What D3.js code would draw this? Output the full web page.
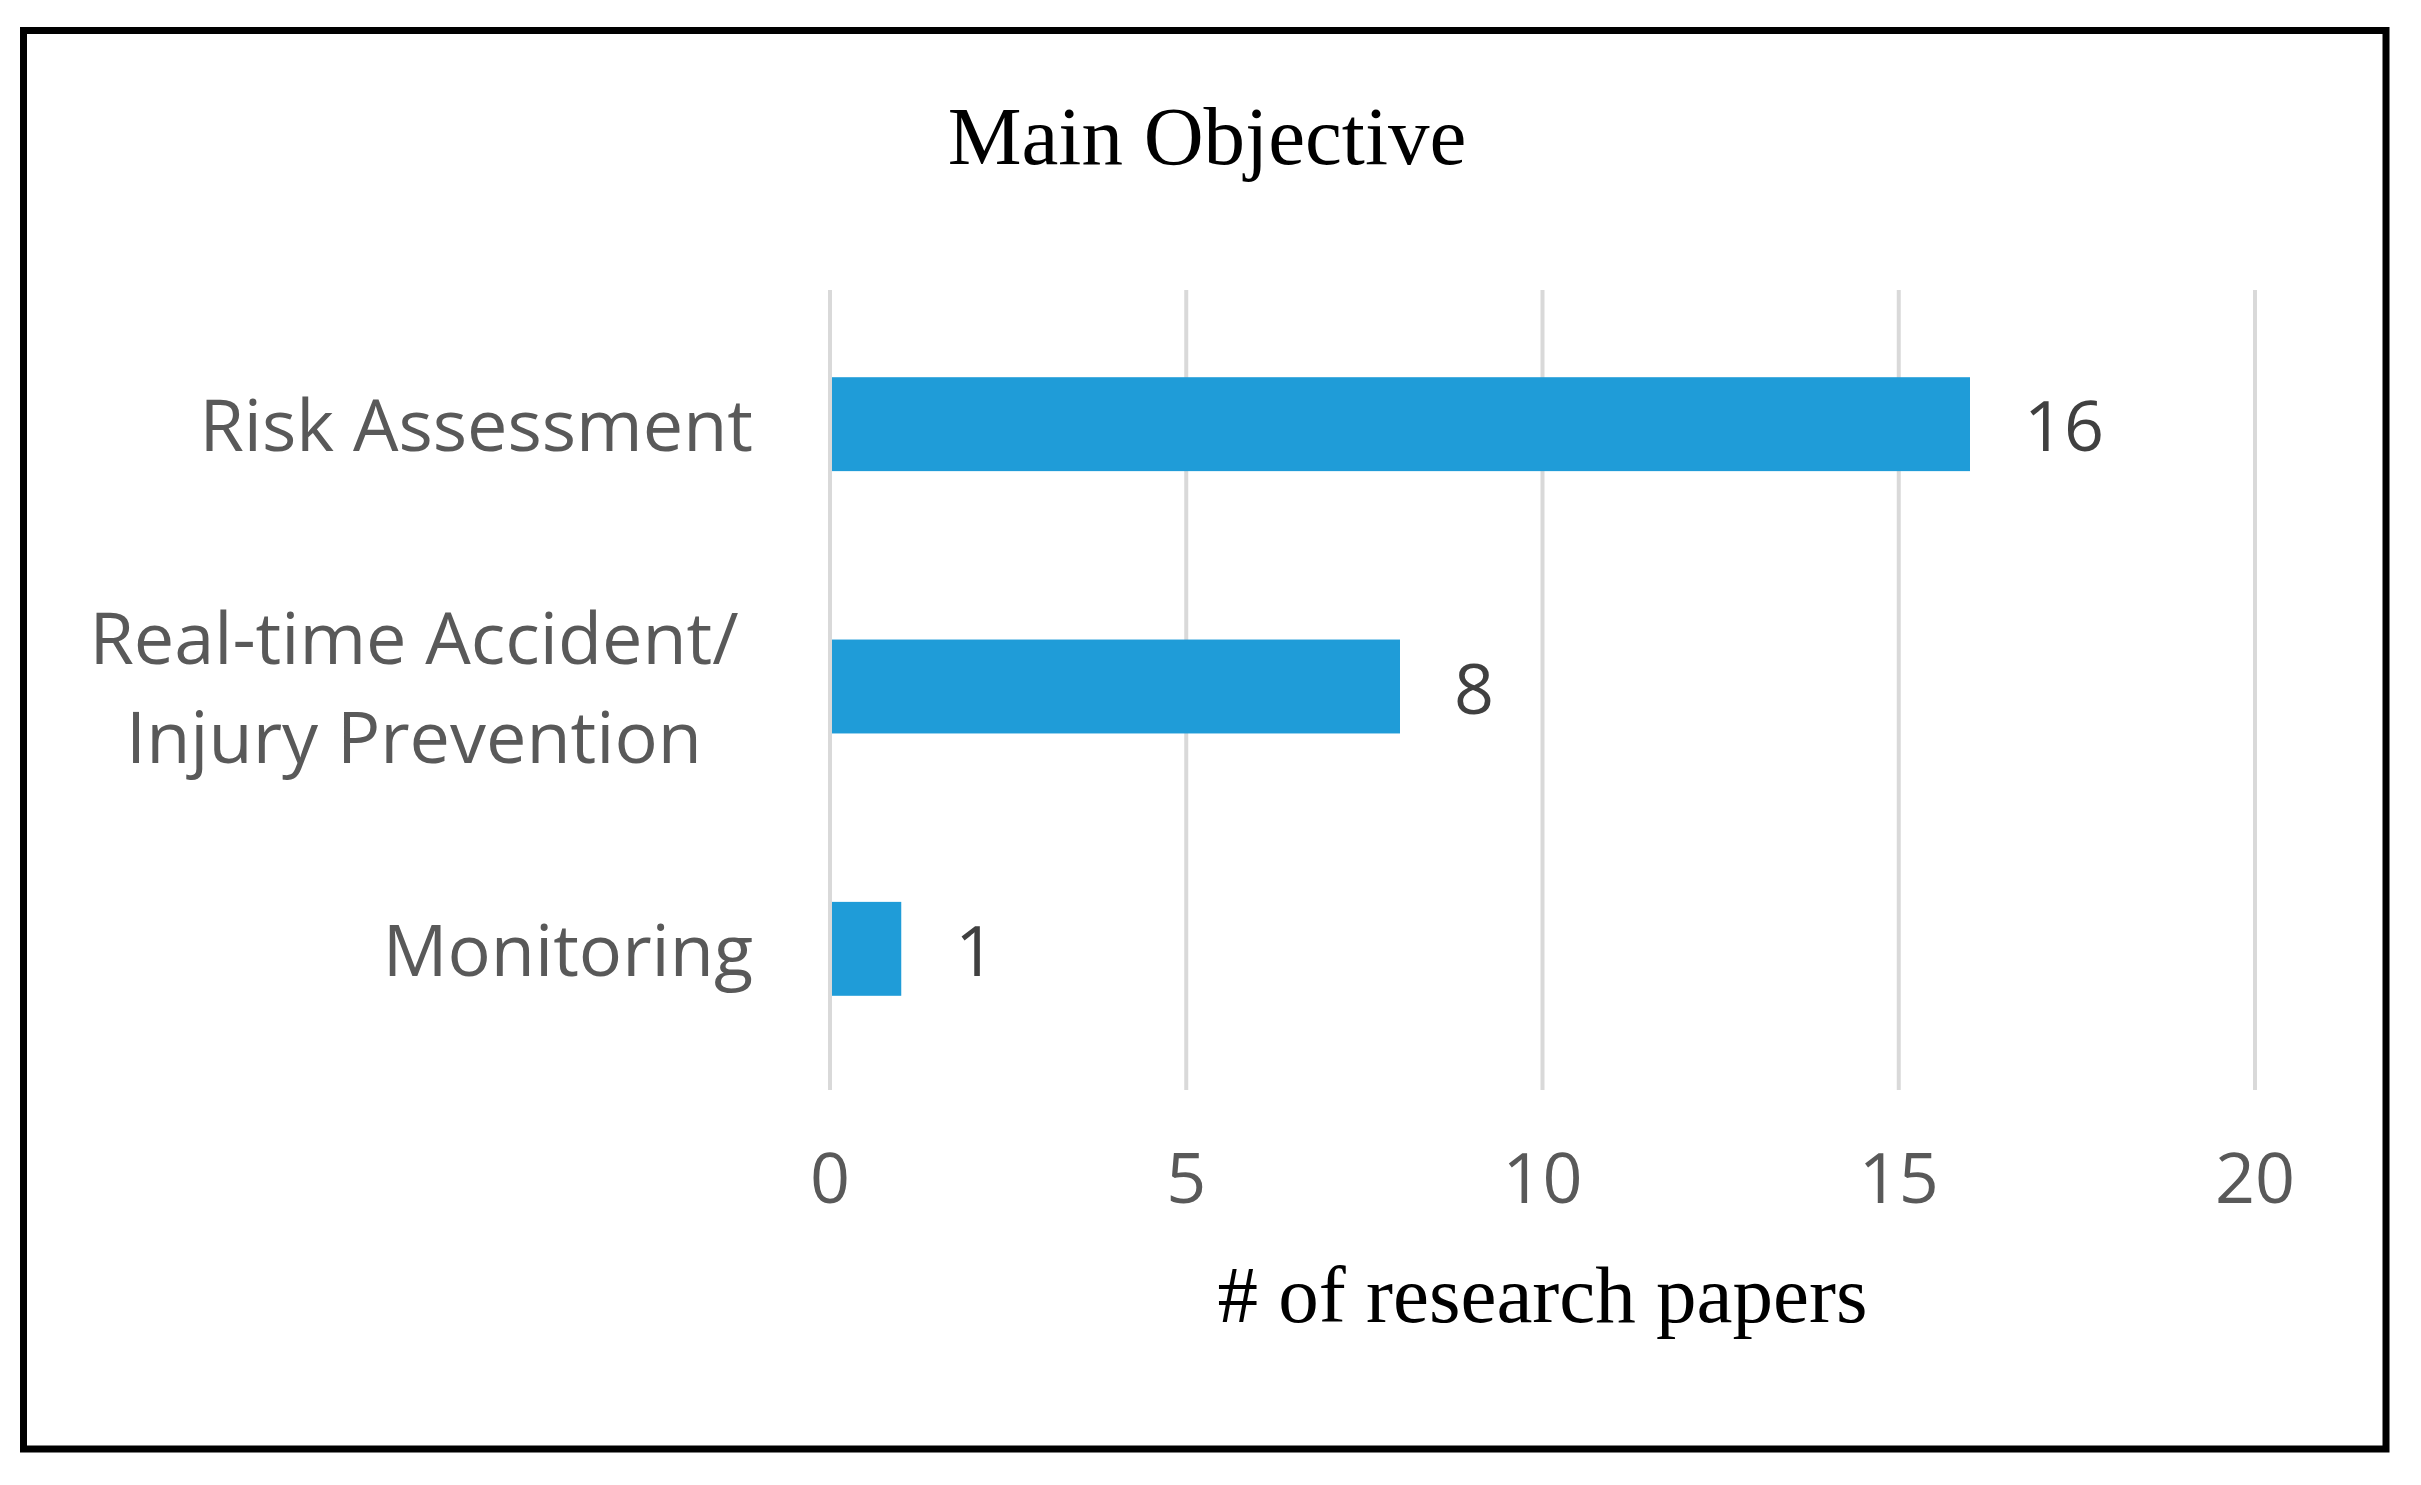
<!DOCTYPE html>
<html>
<head>
<meta charset="utf-8">
<script src="https://cdn.jsdelivr.net/npm/d3@7"></script>
<style>
html, body { margin: 0; padding: 0; background: #fff; }
svg { display: block; }
</style>
</head>
<body>
<script>
const categories = ["Risk Assessment", "Real-time Accident/\nInjury Prevention", "Monitoring"];
const values = [16, 8, 1];
const tickValues = [0, 5, 10, 15, 20];
const chartTitle = "Main Objective";
const axisTitle = "# of research papers";

const W = 2421, H = 1485;
const svg = d3.select("body").append("svg").attr("width", W).attr("height", H);

svg.append("rect").attr("x", 0).attr("y", 0).attr("width", W).attr("height", H).attr("fill", "#fff");

// outer border
svg.append("rect")
  .attr("x", 23.5).attr("y", 30.5)
  .attr("width", 2386 - 23.5).attr("height", 1449 - 30.5)
  .attr("fill", "none").attr("stroke", "#000").attr("stroke-width", 7);

const x = d3.scaleLinear().domain([0, 20]).range([830, 2255]);
const y = d3.scaleBand().domain(categories).range([293, 1080]).paddingInner(0.642).paddingOuter(0.321);

const gridTop = 290, gridBottom = 1090;

// gridlines
svg.append("g").selectAll("line").data(tickValues).join("line")
  .attr("x1", d => x(d)).attr("x2", d => x(d))
  .attr("y1", gridTop).attr("y2", gridBottom)
  .attr("stroke", "#d9d9d9").attr("stroke-width", 4);

// bars
svg.append("g").selectAll("rect").data(values).join("rect")
  .attr("x", x(0) + 2)
  .attr("y", (d, i) => y(categories[i]))
  .attr("width", d => x(d) - x(0) - 2)
  .attr("height", y.bandwidth())
  .attr("fill", "#1f9cd8");

const sans = "'Open Sans', 'Noto Sans', sans-serif";
const serif = "'Liberation Serif', 'DejaVu Serif', serif";

// value labels
svg.append("g").selectAll("text").data(values).join("text")
  .attr("x", d => x(d) + 54)
  .attr("y", (d, i) => y(categories[i]) + y.bandwidth() / 2 + 27)
  .attr("font-family", sans).attr("font-size", 70)
  .attr("fill", "#404040")
  .text(d => d);

// category labels
const lineH = 99;
svg.append("g").selectAll("text").data(categories).join("text")
  .attr("font-family", sans).attr("font-size", 72)
  .attr("fill", "#595959")
  .attr("text-anchor", d => d.includes("\n") ? "middle" : "end")
  .each(function(d) {
    const lines = d.split("\n");
    const cy = y(d) + y.bandwidth() / 2;
    const t = d3.select(this);
    const n = lines.length;
    const xPos = n > 1 ? 414 : 753;
    lines.forEach((ln, k) => {
      t.append("tspan")
        .attr("x", xPos)
        .attr("y", cy + 27 + (k - (n - 1) / 2) * lineH)
        .text(ln);
    });
  });

// tick labels
svg.append("g").selectAll("text").data(tickValues).join("text")
  .attr("x", d => x(d))
  .attr("y", 1203)
  .attr("text-anchor", "middle")
  .attr("font-family", sans).attr("font-size", 70)
  .attr("fill", "#595959")
  .text(d => d);

// axis title
svg.append("text")
  .attr("x", (x(0) + x(20)) / 2).attr("y", 1322)
  .attr("text-anchor", "middle")
  .attr("font-family", serif).attr("font-size", 81)
  .attr("fill", "#000")
  .text(axisTitle);

// chart title
svg.append("text")
  .attr("x", 1207).attr("y", 164)
  .attr("text-anchor", "middle")
  .attr("font-family", serif).attr("font-size", 83)
  .attr("fill", "#000")
  .text(chartTitle);
</script>
</body>
</html>
